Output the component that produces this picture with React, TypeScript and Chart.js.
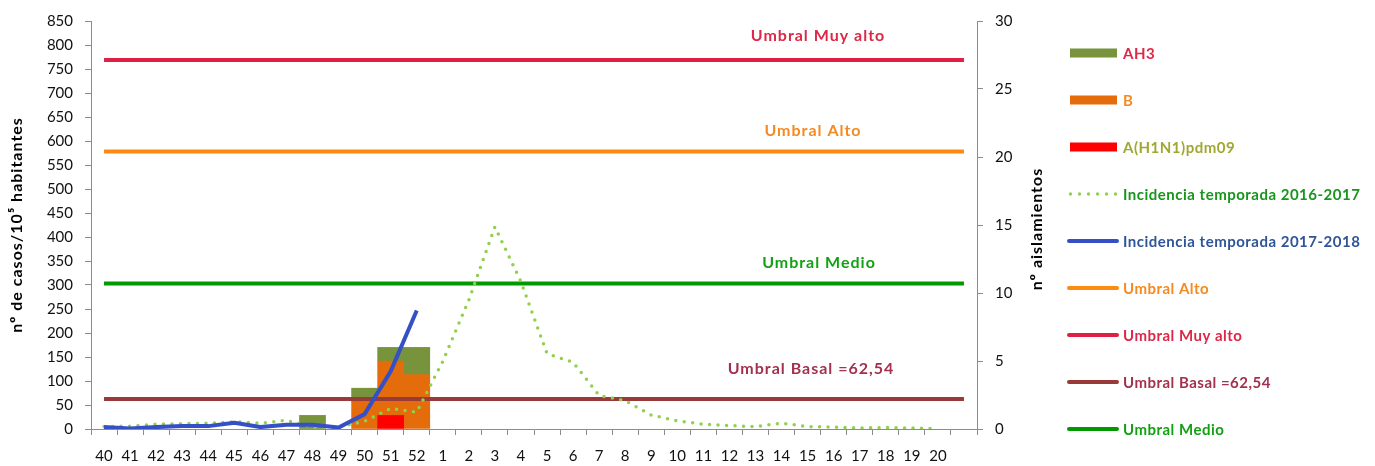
import React, { useEffect, useRef } from 'react';
import { Chart, registerables } from 'chart.js';

Chart.register(...registerables);

const weeks = ['40','41','42','43','44','45','46','47','48','49','50','51','52','1','2','3','4','5','6','7','8','9','10','11','12','13','14','15','16','17','18','19','20',''];

// isolates (right axis)
const isoH1N1 = [null,null,null,null,null,null,null,null,null,null,null,1,null,null,null,null,null,null,null,null,null,null,null,null,null,null,null,null,null,null,null,null,null,null];
const isoB = [null,null,null,null,null,null,null,null,null,null,2,4,4,null,null,null,null,null,null,null,null,null,null,null,null,null,null,null,null,null,null,null,null,null];
const isoAH3 = [null,null,null,null,null,null,null,null,1,null,1,1,2,null,null,null,null,null,null,null,null,null,null,null,null,null,null,null,null,null,null,null,null,null];

// incidence (left axis)
const inc2016_2017 = [5,6,10,11,12,15,12,18,4,4,16,43,35,141,269,421,307,157,139,70,59,29,17,10,7,5,12,5,4,2,3,2,1,null];
const inc2017_2018 = [4,1,4,6,6,13,4,9,9,3,31,120,247,null,null,null,null,null,null,null,null,null,null,null,null,null,null,null,null,null,null,null,null,null];

// thresholds
const umbralBasal = 62.54;
const umbralMedio = 303;
const umbralAlto = 578;
const umbralMuyAlto = 769;

const leftTicksMax = 850;
const rightTicksMax = 30;

const FONT = 'Lato, "Open Sans", sans-serif';

const COLORS = {
  ah3: '#77933c',
  b: '#e46c0a',
  h1n1: '#ff0000',
  inc1617: '#92d050',
  inc1718: '#3550c6',
  alto: '#ff8a12',
  muyAlto: '#e01f45',
  basal: '#983a38',
  medio: '#009a00',
};

const thresholdLabels = [
  { text: 'Umbral Muy alto', value: umbralMuyAlto, x: 818, dy: -24, color: '#dc2848' },
  { text: 'Umbral Alto', value: umbralAlto, x: 813, dy: -21, color: '#f58a20' },
  { text: 'Umbral Medio', value: umbralMedio, x: 819, dy: -21, color: '#13a013' },
  { text: 'Umbral Basal =62,54', value: umbralBasal, x: 811, dy: -30, color: '#a3314e' },
];

type LegendItem = { text: string; kind: 'bar' | 'line' | 'dots'; color: string; textColor: string };
const legendItems: LegendItem[] = [
  { text: 'AH3', kind: 'bar', color: COLORS.ah3, textColor: '#dc2848' },
  { text: 'B', kind: 'bar', color: COLORS.b, textColor: '#f58a20' },
  { text: 'A(H1N1)pdm09', kind: 'bar', color: COLORS.h1n1, textColor: '#a0a830' },
  { text: 'Incidencia temporada 2016-2017', kind: 'dots', color: COLORS.inc1617, textColor: '#17961c' },
  { text: 'Incidencia temporada 2017-2018', kind: 'line', color: COLORS.inc1718, textColor: '#2f5597' },
  { text: 'Umbral Alto', kind: 'line', color: COLORS.alto, textColor: '#f58a20' },
  { text: 'Umbral Muy alto', kind: 'line', color: COLORS.muyAlto, textColor: '#dc2848' },
  { text: 'Umbral Basal =62,54', kind: 'line', color: COLORS.basal, textColor: '#a3314e' },
  { text: 'Umbral Medio', kind: 'line', color: COLORS.medio, textColor: '#13a013' },
];

const overlayPlugin = {
  id: 'overlay',
  afterDatasetsDraw(chart: any) {
    const ctx = chart.ctx;
    const y = chart.scales.y;
    ctx.save();
    ctx.font = `bold 16px ${FONT}`;
    (ctx as any).letterSpacing = '1px';
    ctx.textAlign = 'center';
    ctx.textBaseline = 'middle';
    thresholdLabels.forEach((l) => {
      ctx.fillStyle = l.color;
      ctx.fillText(l.text, l.x, y.getPixelForValue(l.value) + l.dy);
    });
    ctx.restore();
  },
  afterDraw(chart: any) {
    const ctx = chart.ctx;
    const area = chart.chartArea;
    const midY = (area.top + area.bottom) / 2;
    ctx.save();
    // axis titles
    ctx.fillStyle = '#000';
    ctx.font = `bold 16px ${FONT}`;
    (ctx as any).letterSpacing = '1px';
    ctx.textAlign = 'center';
    ctx.textBaseline = 'middle';
    ctx.save();
    ctx.translate(17, midY);
    ctx.rotate(-Math.PI / 2);
    ctx.fillText('nº de casos/10⁵ habitantes', 0, 0);
    ctx.restore();
    ctx.save();
    ctx.translate(1037, midY + 4);
    ctx.rotate(-Math.PI / 2);
    ctx.fillText('nº aislamientos', 0, 0);
    ctx.restore();

    // legend
    const x0 = 1069;
    const x1 = 1117;
    const startY = 53;
    const step = 47;
    ctx.font = `bold 15px ${FONT}`;
    (ctx as any).letterSpacing = '0.5px';
    ctx.textAlign = 'left';
    legendItems.forEach((it, i) => {
      const cy = startY + i * step;
      if (it.kind === 'bar') {
        ctx.fillStyle = it.color;
        ctx.fillRect(x0 + 1, cy - 4.5, x1 - x0 - 1, 9);
      } else if (it.kind === 'line') {
        ctx.strokeStyle = it.color;
        ctx.lineWidth = 4;
        ctx.lineCap = 'round';
        ctx.beginPath();
        ctx.moveTo(x0, cy);
        ctx.lineTo(x1, cy);
        ctx.stroke();
      } else {
        ctx.fillStyle = it.color;
        for (let k = 0; k < 6; k++) {
          ctx.beginPath();
          ctx.arc(x0 + 1.5 + k * 9, cy, 1.7, 0, Math.PI * 2);
          ctx.fill();
        }
      }
      ctx.fillStyle = it.textColor;
      ctx.fillText(it.text, 1123, cy + 1);
    });
    ctx.restore();
  },
};

export default function App() {
  const ref = useRef<HTMLCanvasElement | null>(null);
  useEffect(() => {
    if (!ref.current) return;
    const thr = (v: number) => weeks.map(() => v);
    const chart = new Chart(ref.current, {
      type: 'bar',
      data: {
        labels: weeks,
        datasets: [
          { type: 'bar', label: 'A(H1N1)pdm09', data: isoH1N1, backgroundColor: COLORS.h1n1, yAxisID: 'y1', order: 5, barPercentage: 1, categoryPercentage: 1, borderWidth: 0 },
          { type: 'bar', label: 'B', data: isoB, backgroundColor: COLORS.b, yAxisID: 'y1', order: 5, barPercentage: 1, categoryPercentage: 1, borderWidth: 0 },
          { type: 'bar', label: 'AH3', data: isoAH3, backgroundColor: COLORS.ah3, yAxisID: 'y1', order: 5, barPercentage: 1, categoryPercentage: 1, borderWidth: 0 },
          { type: 'line', label: 'Umbral Muy alto', data: thr(umbralMuyAlto), borderColor: COLORS.muyAlto, borderWidth: 4, pointRadius: 0, yAxisID: 'y', order: 3 },
          { type: 'line', label: 'Umbral Alto', data: thr(umbralAlto), borderColor: COLORS.alto, borderWidth: 4, pointRadius: 0, yAxisID: 'y', order: 3 },
          { type: 'line', label: 'Umbral Medio', data: thr(umbralMedio), borderColor: COLORS.medio, borderWidth: 4, pointRadius: 0, yAxisID: 'y', order: 3 },
          { type: 'line', label: 'Umbral Basal =62,54', data: thr(umbralBasal), borderColor: COLORS.basal, borderWidth: 4, pointRadius: 0, yAxisID: 'y', order: 3 },
          { type: 'line', label: 'Incidencia temporada 2016-2017', data: inc2016_2017, borderColor: COLORS.inc1617, borderWidth: 3.5, borderDash: [0, 8.5], borderCapStyle: 'round', pointRadius: 0, tension: 0, yAxisID: 'y', order: 1 },
          { type: 'line', label: 'Incidencia temporada 2017-2018', data: inc2017_2018, borderColor: COLORS.inc1718, borderWidth: 4, borderJoinStyle: 'round', pointRadius: 0, tension: 0, yAxisID: 'y', order: 0 },
        ] as any,
      },
      options: {
        responsive: false,
        animation: false,
        layout: { padding: { left: 0, top: 20, right: 330, bottom: 1 } },
        plugins: { legend: { display: false }, tooltip: { enabled: false }, title: { display: false } },
        scales: {
          x: {
            stacked: true,
            offset: true,
            grid: { display: true, drawOnChartArea: false, drawTicks: true, tickLength: 6, color: '#8c8c8c', offset: true },
            border: { display: true, color: '#8c8c8c', width: 1 },
            ticks: { autoSkip: false, maxRotation: 0, minRotation: 0, color: '#111', padding: 12, font: { family: FONT, size: 15 } },
            afterFit: (s: any) => { s.height = 36; },
          },
          y: {
            position: 'left',
            min: 0,
            max: leftTicksMax,
            stacked: false,
            ticks: { stepSize: 50, color: '#111', padding: 12, font: { family: FONT, size: 15 } },
            grid: { display: true, drawOnChartArea: false, drawTicks: true, tickLength: 6, color: '#8c8c8c' },
            border: { display: true, color: '#8c8c8c', width: 1 },
            afterFit: (s: any) => { s.width = 91; },
          },
          y1: {
            position: 'right',
            min: 0,
            max: rightTicksMax,
            stacked: true,
            ticks: { stepSize: 5, color: '#111', padding: 12, font: { family: FONT, size: 15 } },
            grid: { display: true, drawOnChartArea: false, drawTicks: true, tickLength: 6, color: '#8c8c8c' },
            border: { display: true, color: '#8c8c8c', width: 1 },
            afterFit: (s: any) => { s.width = 68; },
          },
        },
      },
      plugins: [overlayPlugin],
    });
    return () => chart.destroy();
  }, []);
  return (
    <div style={{ position: 'fixed', left: 0, top: 0, width: 1375, height: 466, background: '#fff' }}>
      <canvas ref={ref} width={1375} height={466} style={{ display: 'block', width: 1375, height: 466 }} />
    </div>
  );
}
